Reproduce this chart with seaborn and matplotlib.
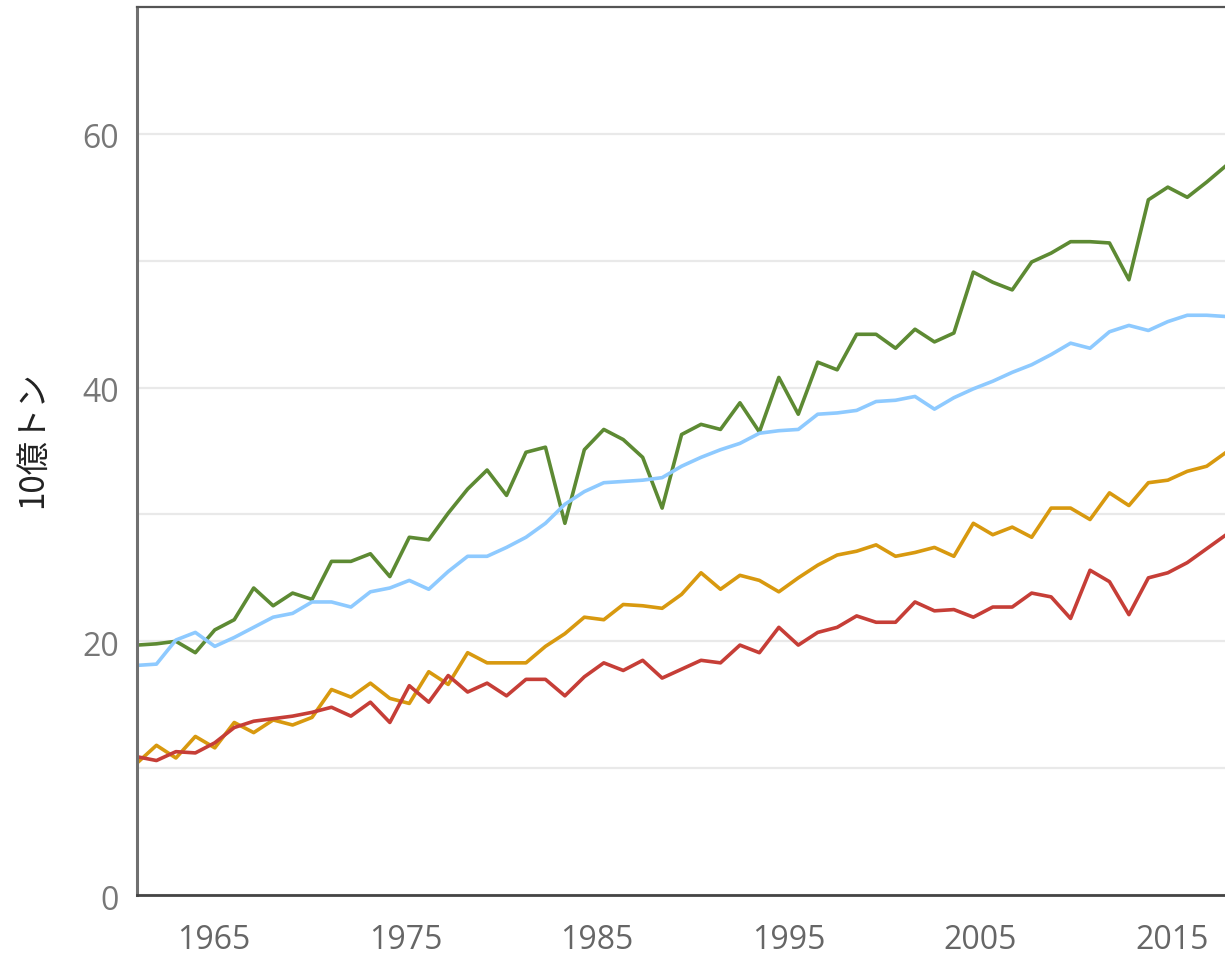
import matplotlib
matplotlib.use("Agg")
import matplotlib.pyplot as plt
import matplotlib.transforms as mtransforms
import pandas as pd
import seaborn as sns

# Datos anuales (10億トン)
years = list(range(1961, 2018))

green = [19.7, 19.8, 20.0, 19.1, 20.9, 21.7, 24.2, 22.8, 23.8, 23.3,
         26.3, 26.3, 26.9, 25.1, 28.2, 28.0, 30.1, 32.0, 33.5, 31.5,
         34.9, 35.3, 29.3, 35.1, 36.7, 35.9, 34.5, 30.5, 36.3, 37.1,
         36.7, 38.8, 36.5, 40.8, 37.9, 42.0, 41.4, 44.2, 44.2, 43.1,
         44.6, 43.6, 44.3, 49.1, 48.3, 47.7, 49.9, 50.6, 51.5, 51.5,
         51.4, 48.5, 54.8, 55.8, 55.0, 56.2, 57.5]

blue = [18.1, 18.2, 20.1, 20.7, 19.6, 20.3, 21.1, 21.9, 22.2, 23.1,
        23.1, 22.7, 23.9, 24.2, 24.8, 24.1, 25.5, 26.7, 26.7, 27.4,
        28.2, 29.3, 30.8, 31.8, 32.5, 32.6, 32.7, 32.9, 33.8, 34.5,
        35.1, 35.6, 36.4, 36.6, 36.7, 37.9, 38.0, 38.2, 38.9, 39.0,
        39.3, 38.3, 39.2, 39.9, 40.5, 41.2, 41.8, 42.6, 43.5, 43.1,
        44.4, 44.9, 44.5, 45.2, 45.7, 45.7, 45.6]

orange = [10.4, 11.8, 10.8, 12.5, 11.6, 13.6, 12.8, 13.8, 13.4, 14.0,
          16.2, 15.6, 16.7, 15.5, 15.1, 17.6, 16.6, 19.1, 18.3, 18.3,
          18.3, 19.6, 20.6, 21.9, 21.7, 22.9, 22.8, 22.6, 23.7, 25.4,
          24.1, 25.2, 24.8, 23.9, 25.0, 26.0, 26.8, 27.1, 27.6, 26.7,
          27.0, 27.4, 26.7, 29.3, 28.4, 29.0, 28.2, 30.5, 30.5, 29.6,
          31.7, 30.7, 32.5, 32.7, 33.4, 33.8, 34.9]

red = [10.9, 10.6, 11.3, 11.2, 12.0, 13.2, 13.7, 13.9, 14.1, 14.4,
       14.8, 14.1, 15.2, 13.6, 16.5, 15.2, 17.3, 16.0, 16.7, 15.7,
       17.0, 17.0, 15.7, 17.2, 18.3, 17.7, 18.5, 17.1, 17.8, 18.5,
       18.3, 19.7, 19.1, 21.1, 19.7, 20.7, 21.1, 22.0, 21.5, 21.5,
       23.1, 22.4, 22.5, 21.9, 22.7, 22.7, 23.8, 23.5, 21.8, 25.6,
       24.7, 22.1, 25.0, 25.4, 26.2, 27.3, 28.4]

series = ["A", "B", "C", "D"]
colors = {"A": "#5d8a33", "B": "#8ecaff", "C": "#d8990f", "D": "#c63e37"}

tick_years = [1965, 1975, 1985, 1995, 2005, 2015]
y_major = [0, 20, 40, 60]
y_minor = [10, 30, 50]

df = pd.DataFrame({
    "年": years * 4,
    "値": green + blue + orange + red,
    "系列": [s for s in series for _ in years],
})

sns.set_theme(style="white")
plt.rcParams["font.family"] = ["Open Sans", "DejaVu Sans"]

fig = plt.figure(figsize=(12.25, 9.56), dpi=100)
ax = fig.add_axes([137 / 1225, 61 / 956, 1088 / 1225, 888 / 956])

sns.lineplot(data=df, x="年", y="値", hue="系列", palette=colors,
             linewidth=2.6, legend=False, ax=ax)

ax.set_xlim(1961, 2016.94)
ax.set_ylim(0, 70)

# en el original el eje de años está algo más comprimido que las líneas
ax.set_xticks([1961 + (t - 1961) * 0.9855 for t in tick_years])
ax.set_xticklabels([str(t) for t in tick_years])
ax.set_yticks(y_major)
ax.set_yticks(y_minor, minor=True)

ax.grid(axis="y", which="both", color="#e9e9e9", linewidth=1.6)
ax.set_axisbelow(True)

ax.tick_params(axis="x", length=7, width=1.5, color="#444444",
               labelsize=23, labelcolor="#666666", pad=14)
ax.tick_params(axis="y", which="both", length=0, labelsize=23,
               labelcolor="#777777", pad=13)

# etiquetas del eje y un poco por debajo de su línea
shift = mtransforms.ScaledTranslation(0, -6 / 100, fig.dpi_scale_trans)
for lbl in ax.get_yticklabels():
    lbl.set_va("center")
    lbl.set_transform(lbl.get_transform() + shift)

ax.set_xlabel("")
ax.set_ylabel("")

ax.spines["right"].set_visible(False)
ax.spines["left"].set_color("#707070")
ax.spines["left"].set_linewidth(2.2)
ax.spines["top"].set_color("#555555")
ax.spines["top"].set_linewidth(1.6)
ax.spines["bottom"].set_color("#444444")
ax.spines["bottom"].set_linewidth(2.0)

fig.text(33 / 1225, 1 - 440 / 956, "10億トン", rotation=90,
         ha="center", va="center", fontsize=24, color="#222222",
         family=["Noto Sans CJK JP", "DejaVu Sans"])

fig.savefig("out.png", dpi=100)
